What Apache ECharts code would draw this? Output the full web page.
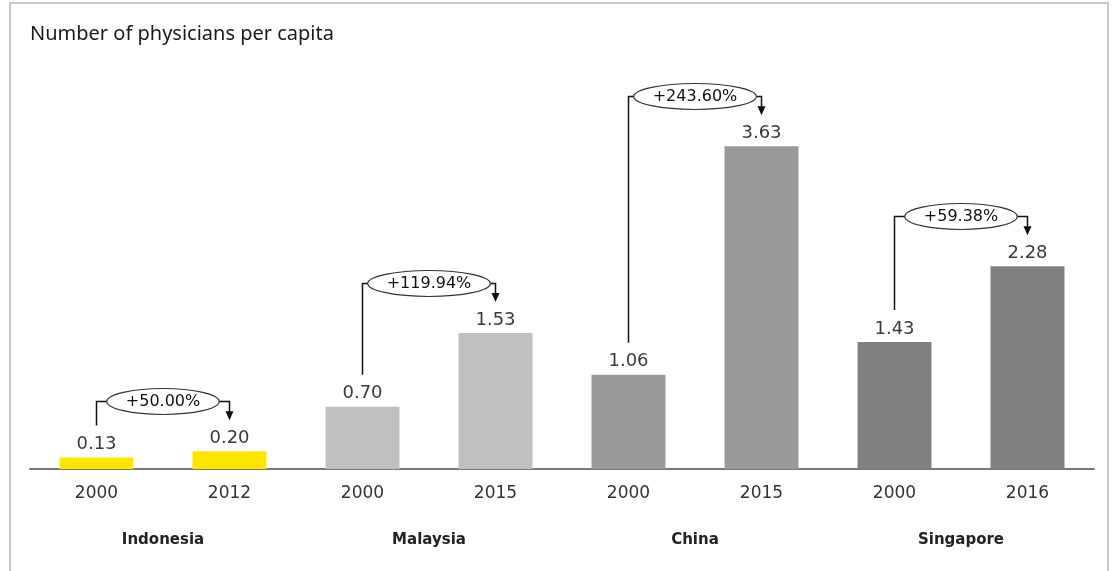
<!DOCTYPE html>
<html><head><meta charset="utf-8">
<script src="https://cdn.jsdelivr.net/npm/echarts@6/dist/echarts.min.js"></script>
<style>html,body{margin:0;padding:0;background:#fff}#c{width:1117px;height:571px}</style>
</head><body><div id="c"></div>
<script>
const chartTitle = 'Number of physicians per capita';
const countries = ['Indonesia', 'Malaysia', 'China', 'Singapore'];
const years = ['2000', '2012', '2000', '2015', '2000', '2015', '2000', '2016'];
const values = [0.13, 0.20, 0.70, 1.53, 1.06, 3.63, 1.43, 2.28];
const barCountry = [0, 0, 1, 1, 2, 2, 3, 3];
const changeFrom = [0, 2, 4, 6];
const changeTo = [1, 3, 5, 7];
const changeLabels = ['+50.00%', '+119.94%', '+243.60%', '+59.38%'];
const palette = ['#FFE600', '#C0C0C0', '#999999', '#808080'];

const annFont = '16px "DejaVu Sans"';
const cv = document.createElement('canvas').getContext('2d');
function measure(t, f) { cv.font = f; return cv.measureText(t).width; }

const annData = changeFrom.map((f, k) => [f, values[f], changeTo[k], values[changeTo[k]]]);

function renderItem(params, api) {
  const p1 = api.coord([api.value(0), api.value(1)]);
  const p2 = api.coord([api.value(2), api.value(3)]);
  const label = changeLabels[params.dataIndex];
  const tw = measure(label, annFont);
  const rx = tw / 2 + 19, ry = 13;
  const by = Math.round(p2[1] - 50) + 0.5;
  const cx = (p1[0] + p2[0]) / 2;
  const tipY = p2[1] - 31;
  const ls = { stroke: '#111', lineWidth: 1.5, fill: null };
  return {
    type: 'group',
    children: [
      { type: 'polyline', shape: { points: [[p1[0], p1[1] - 32], [p1[0], by], [cx - rx, by]] }, style: ls },
      { type: 'polyline', shape: { points: [[cx + rx, by], [p2[0], by], [p2[0], tipY - 8]] }, style: ls },
      { type: 'polygon', shape: { points: [[p2[0] - 4, tipY - 9], [p2[0] + 4, tipY - 9], [p2[0], tipY]] }, style: { fill: '#111' } },
      { type: 'ellipse', shape: { cx: cx, cy: by, rx: rx, ry: ry }, style: { fill: '#fff', stroke: '#333', lineWidth: 1.2 } },
      { type: 'text', style: { text: label, x: cx, y: by + 0.5, align: 'center', verticalAlign: 'middle', font: annFont, fill: '#111' } }
    ]
  };
}

const chart = echarts.init(document.getElementById('c'), null, { renderer: 'canvas' });
chart.setOption({
  animation: false,
  backgroundColor: '#fff',
  title: {
    text: chartTitle, left: 30, top: 24, padding: 0,
    textStyle: { fontFamily: 'Noto Sans', fontSize: 20, fontWeight: 'normal', color: '#1a1a1a' }
  },
  graphic: [{
    type: 'rect', shape: { x: 10, y: 3, width: 1098, height: 620 },
    style: { fill: null, stroke: '#C8C8C8', lineWidth: 2 }, silent: true
  }],
  grid: { left: 30, right: 23, top: 69, bottom: 102 },
  xAxis: [{
    type: 'category', data: years, position: 'bottom',
    axisLine: { lineStyle: { color: '#787878', width: 2 } },
    axisTick: { show: false },
    axisLabel: { margin: 16, fontFamily: 'DejaVu Sans', fontSize: 17, color: '#333', interval: 0 }
  }, {
    type: 'category', data: countries, position: 'bottom',
    axisLine: { show: false }, axisTick: { show: false },
    axisLabel: { margin: 64, fontFamily: 'DejaVu Sans', fontSize: 15, fontWeight: 'bold', color: '#222', interval: 0 }
  }],
  yAxis: { type: 'value', min: 0, max: 4.5, show: false, splitLine: { show: false } },
  series: [{
    type: 'bar', xAxisIndex: 0, barWidth: '55.6%',
    data: values.map((v, i) => ({ value: v, itemStyle: { color: palette[barCountry[i]] } })),
    label: {
      show: true, position: 'top', distance: 4,
      formatter: p => p.value.toFixed(2),
      fontFamily: 'DejaVu Sans', fontSize: 18, color: '#3a3a3a'
    }
  }, {
    type: 'custom', xAxisIndex: 0, yAxisIndex: 0, silent: true, clip: false, z: 5,
    encode: { x: [0, 2], y: [1, 3] },
    data: annData, renderItem: renderItem
  }]
});
</script></body></html>
